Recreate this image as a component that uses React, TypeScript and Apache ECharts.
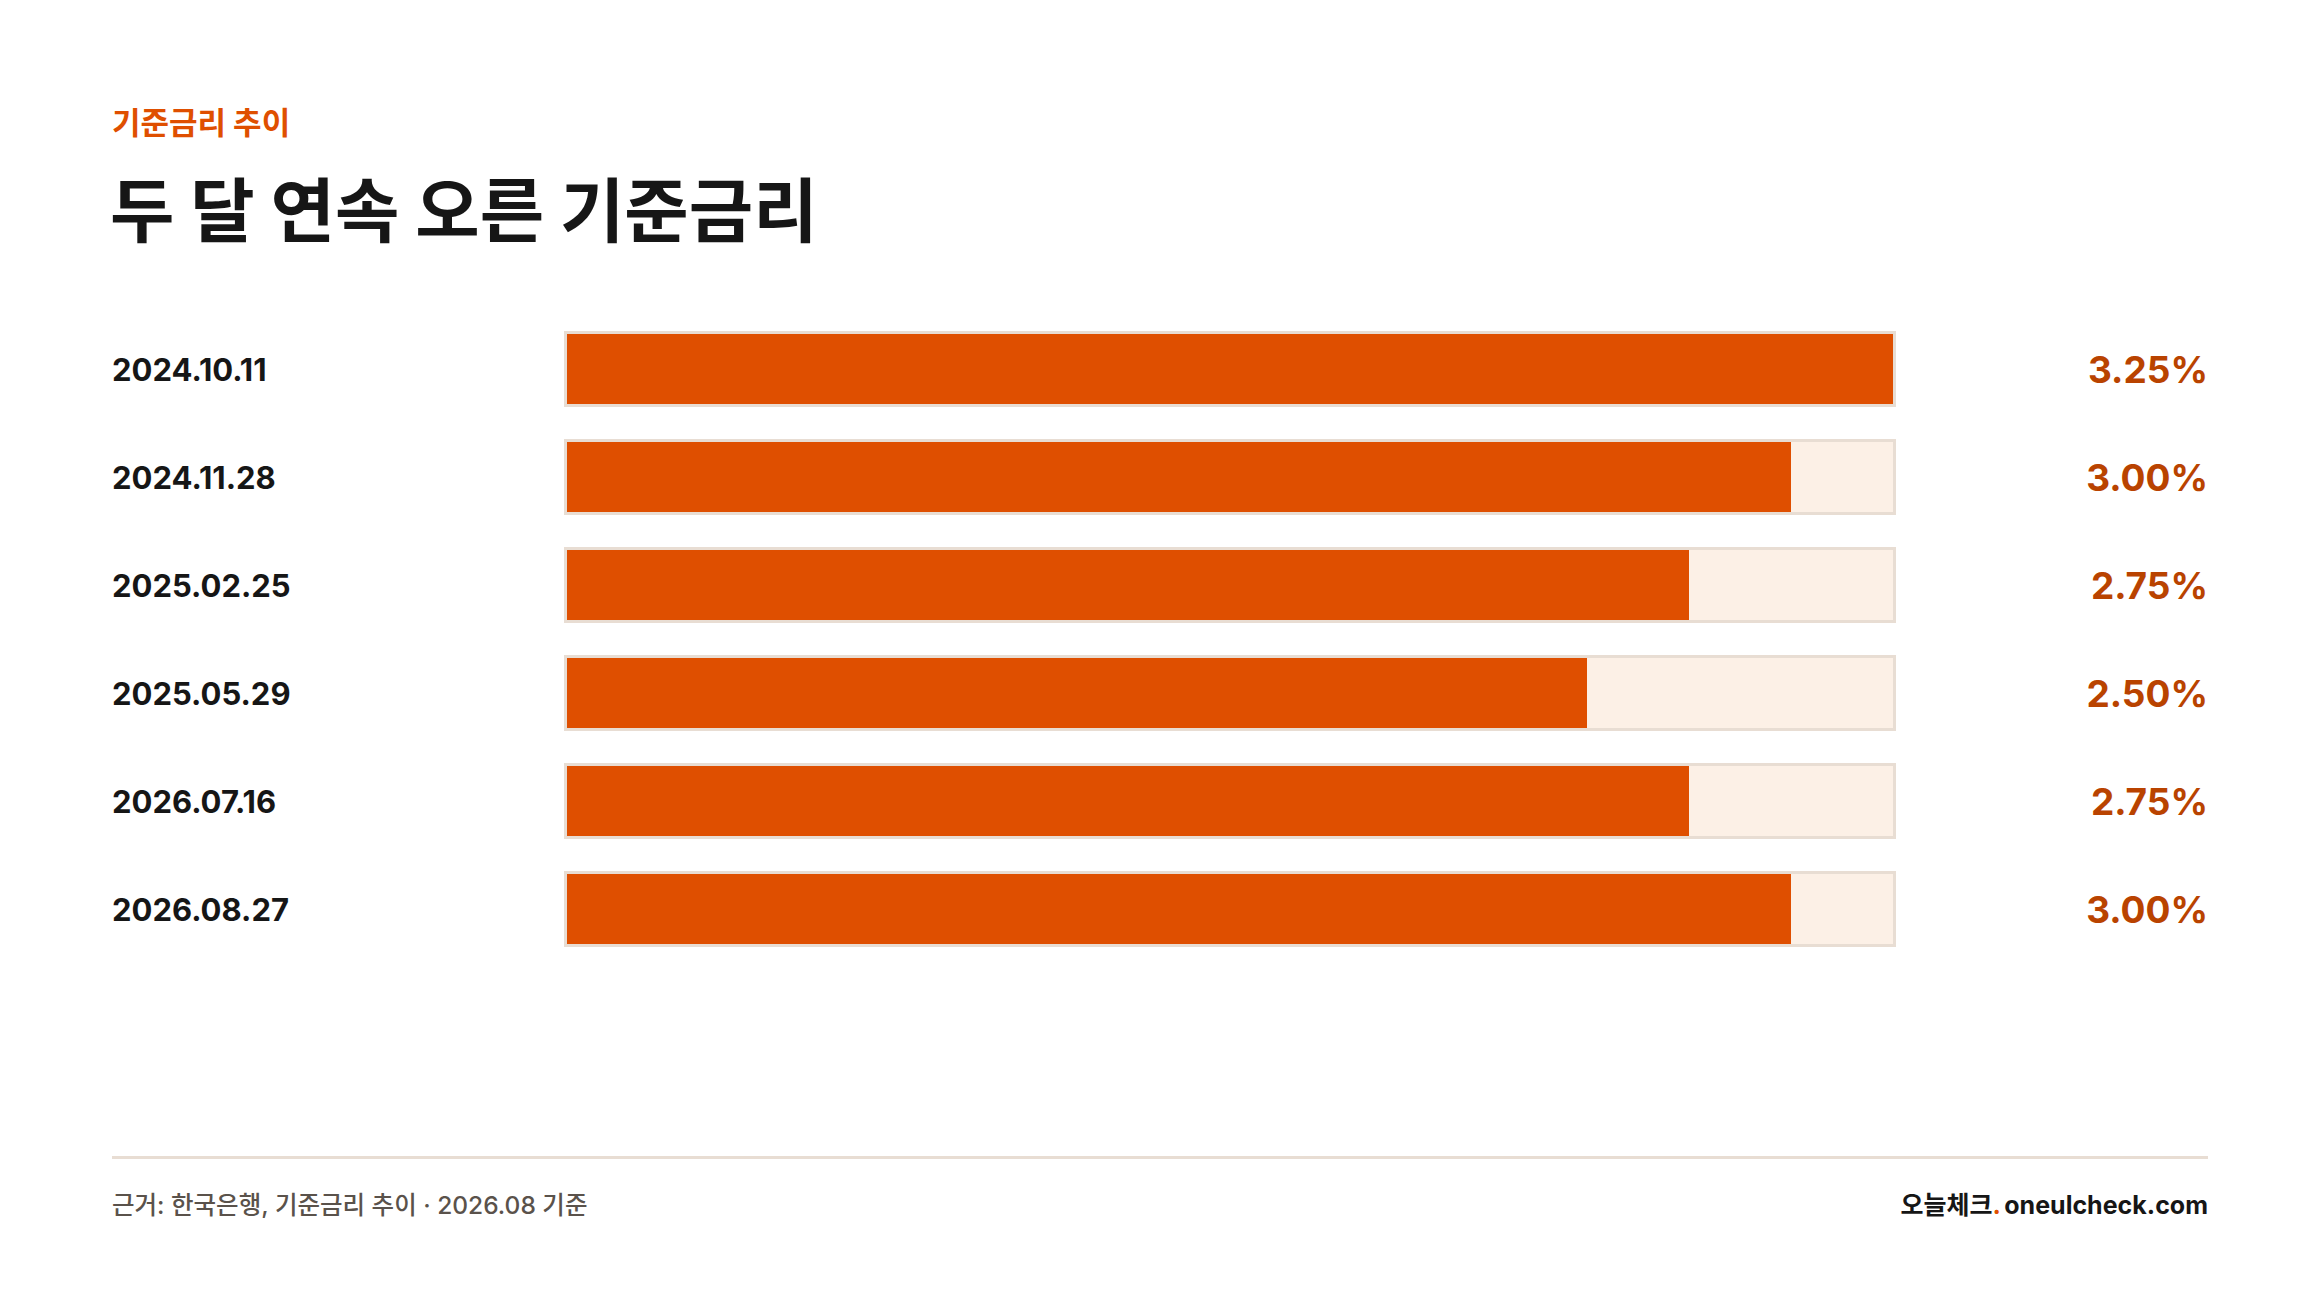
import { useEffect, useRef } from "react";
import * as echarts from "echarts";

// 기준금리 결정일
const dates = ["2024.10.11", "2024.11.28", "2025.02.25", "2025.05.29", "2026.07.16", "2026.08.27"];
// 기준금리 (%)
const rates = [3.25, 3.0, 2.75, 2.5, 2.75, 3.0];
// 트랙 최대값
const trackMax = 3.25;

const FONT = "Inter, 'Noto Sans CJK KR', sans-serif";
const KR = "'Noto Sans CJK KR', Inter, sans-serif";

const App = () => {
  const chartRef = useRef(null);

  useEffect(() => {
    const chart = echarts.init(chartRef.current, null, { renderer: "svg" });

    const gridTop = 315;
    const gridHeight = 648;

    const option: any = {
      animation: false,
      backgroundColor: "#ffffff",
      grid: [
        { left: 564, width: 1332, top: gridTop, height: gridHeight },
        { left: 567, width: 1326, top: gridTop, height: gridHeight },
      ],
      xAxis: [
        { type: "value", gridIndex: 0, min: 0, max: trackMax, show: false },
        { type: "value", gridIndex: 1, min: 0, max: trackMax, show: false },
      ],
      yAxis: [
        {
          type: "category",
          gridIndex: 0,
          inverse: true,
          data: dates,
          axisLine: { show: false },
          axisTick: { show: false },
          splitLine: { show: false },
          axisLabel: {
            align: "left",
            margin: 452,
            color: "#161616",
            fontFamily: FONT,
            fontWeight: 700,
            fontSize: 31,
          },
        },
        {
          type: "category",
          gridIndex: 0,
          position: "right",
          inverse: true,
          data: dates,
          axisLine: { show: false },
          axisTick: { show: false },
          splitLine: { show: false },
          axisLabel: {
            align: "right",
            margin: 312,
            color: "#b94300",
            fontFamily: FONT,
            fontWeight: 700,
            fontSize: 37,
            formatter: (_v, i) => rates[i].toFixed(2) + "%",
          },
        },
        {
          type: "category",
          gridIndex: 1,
          inverse: true,
          data: dates,
          show: false,
        },
      ],
      series: [
        {
          name: "border",
          type: "bar",
          xAxisIndex: 0,
          yAxisIndex: 0,
          barWidth: 76,
          silent: true,
          z: 1,
          itemStyle: { color: "#e8ddd3" },
          data: rates.map(() => trackMax),
        },
        {
          name: "track",
          type: "bar",
          xAxisIndex: 1,
          yAxisIndex: 2,
          barWidth: 70,
          barGap: "-100%",
          silent: true,
          z: 2,
          itemStyle: { color: "#fcf0e6" },
          data: rates.map(() => trackMax),
        },
        {
          name: "기준금리",
          type: "bar",
          xAxisIndex: 1,
          yAxisIndex: 2,
          barWidth: 70,
          barGap: "-100%",
          silent: true,
          z: 3,
          itemStyle: { color: "#df4f00" },
          data: rates,
        },
      ],
      graphic: [
        {
          type: "text",
          style: {
            text: "기준금리 추이",
            x: 112,
            y: 120,
            align: "left",
            verticalAlign: "middle",
            fill: "#df4f00",
            font: `700 31px ${KR}`,
          },
        },
        {
          type: "text",
          style: {
            text: "두 달 연속 오른 기준금리",
            x: 110,
            y: 206,
            align: "left",
            verticalAlign: "middle",
            fill: "#161616",
            font: `700 70px ${KR}`,
          },
        },
        {
          type: "rect",
          shape: { x: 112, y: 1156, width: 2096, height: 3 },
          style: { fill: "#e8ddd3" },
        },
        {
          type: "text",
          style: {
            text: "근거: 한국은행, 기준금리 추이 · 2026.08 기준",
            x: 112,
            y: 1205,
            align: "left",
            verticalAlign: "middle",
            fill: "#5a524b",
            font: `500 24.5px ${FONT}`,
          },
        },
        {
          type: "text",
          style: {
            text: "{a|오늘체크}{b|.} {a|oneulcheck.com}",
            x: 2208,
            y: 1205,
            align: "right",
            verticalAlign: "middle",
            rich: {
              a: { fill: "#161616", fontSize: 25, fontWeight: 700, fontFamily: FONT },
              b: { fill: "#df4f00", fontSize: 25, fontWeight: 700, fontFamily: FONT },
            },
          },
        },
      ],
    };

    chart.setOption(option);

    return () => {
      chart.dispose();
    };
  }, []);

  return (
    <div
      ref={chartRef}
      style={{ position: "fixed", left: 0, top: 0, width: "100vw", height: "100vh", background: "#fff" }}
    />
  );
};

export default App;
